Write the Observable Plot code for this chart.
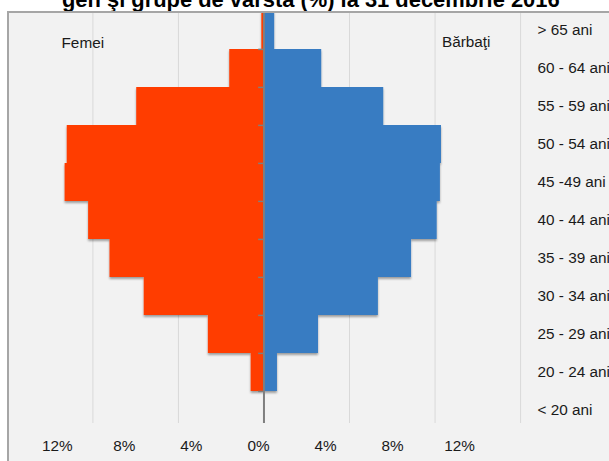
<!DOCTYPE html>
<html><head><meta charset="utf-8">
<script src="https://cdn.jsdelivr.net/npm/d3@7"></script>
<script src="https://cdn.jsdelivr.net/npm/@observablehq/plot@0.6"></script>
<style>
html,body{margin:0;padding:0;background:#fff;width:609px;height:461px;overflow:hidden}
#title{position:relative;height:11px;overflow:hidden;white-space:nowrap}
#title span{position:absolute;font-weight:bold;color:#000}
#frame{margin-left:7px;width:600px;height:448px;border-left:2px solid #a6a6a6;border-top:2px solid #a6a6a6;background:#f2f2f2;overflow:hidden}
</style></head><body>
<div id="title"><span id="titleText"></span></div>
<div id="frame"></div>
<script>
const titleText = "gen şi grupe de vârstă (%) la 31 decembrie 2016";
const ageGroups = ["> 65 ani","60 - 64 ani","55 - 59 ani","50 - 54 ani","45 -49 ani","40 - 44 ani","35 - 39 ani","30 - 34 ani","25 - 29 ani","20 - 24 ani","< 20 ani"];
const femei   = [0.1, 1.6, 5.95, 9.2, 9.3, 8.2, 7.2, 5.6, 2.6, 0.6, 0];
const barbati = [0.5, 2.7, 5.6, 8.3, 8.25, 8.1, 6.9, 5.35, 2.55, 0.63, 0];
const sexes = ["Femei", "Bărbaţi"];
const gridTicks = [-8, -4, 4, 8, 12];
const tickLabelValues = [-12, -8, -4, 0, 4, 8, 12];

function measure(font, s) {
  const c = measure.c || (measure.c = document.createElement("canvas").getContext("2d"));
  c.font = font; return c.measureText(s).width;
}
const narrow = measure('20px "Liberation Sans Narrow", monospace', "Femei 12%") !== measure('20px monospace', "Femei 12%");
const family = narrow ? '"Liberation Sans Narrow", "Liberation Sans", Arial, sans-serif' : '"Liberation Sans", Arial, sans-serif';
const labelSize = 20 * 55 / measure(`20px ${family}`, "> 65 ani");
const titleSize = 20 * 498 / measure(`bold 20px ${family}`, titleText);

const t = document.getElementById("titleText");
t.textContent = titleText;
t.style.fontFamily = family;
t.style.fontSize = titleSize + "px";
t.style.lineHeight = titleSize + "px";
t.style.left = "62px";
t.style.top = (8 - 0.8465 * titleSize) + "px";

const rows = ageGroups.flatMap((age, i) => [
  {age, sex: sexes[0], value: -femei[i]},
  {age, sex: sexes[1], value: barbati[i]}
]);

const labelScale = 0.784;

const svg = Plot.plot({
  width: 600, height: 448,
  marginLeft: 0, marginRight: 81, marginTop: -3, marginBottom: 31,
  style: {background: "transparent", fontFamily: family, fontSize: labelSize + "px", color: "#1a1a1a"},
  x: {domain: [-11.9, 12.37], axis: null},
  y: {domain: ageGroups, padding: 0, axis: "right", tickSize: 0, tickPadding: 9, label: null},
  color: {domain: sexes, range: ["#ff3c00", "#377bc2"]},
  marks: [
    Plot.ruleX(gridTicks, {stroke: "#d9d9d9", strokeWidth: 1, insetBottom: 7}),
    Plot.barX(rows, {y: "age", x1: 0, x2: "value", fill: "sex"}),
    Plot.ruleX([0], {stroke: "#7f7f7f", strokeWidth: 2, insetBottom: 7}),
    Plot.ruleY(ageGroups.slice(1), {y: d => d, x1: 0, x2: -0.25, stroke: "#7f7f7f", strokeWidth: 1.5, dy: -19.1}),
    Plot.text(tickLabelValues, {x: d => d * labelScale, text: d => Math.abs(d) + "%", frameAnchor: "bottom", lineAnchor: "middle", dy: 16, dx: -5.5, fill: "#1a1a1a"}),
    Plot.text([sexes[0]], {text: d => d, frameAnchor: "top-left", textAnchor: "start", lineAnchor: "middle", dx: 52, dy: 33, fill: "#1a1a1a"}),
    Plot.text([sexes[1]], {text: d => d, frameAnchor: "top-right", textAnchor: "end", lineAnchor: "middle", dx: -38, dy: 32, fill: "#1a1a1a"})
  ]
});

const ns = "http://www.w3.org/2000/svg";
const defs = document.createElementNS(ns, "defs");
defs.innerHTML = '<filter id="sh" x="-5%" y="-5%" width="110%" height="115%"><feDropShadow dx="0" dy="2" stdDeviation="1.3" flood-color="#000" flood-opacity="0.35"/></filter>';
svg.prepend(defs);
svg.querySelectorAll('g[aria-label="bar"]').forEach(g => g.setAttribute("filter", "url(#sh)"));
document.getElementById("frame").appendChild(svg);
</script>
</body></html>
